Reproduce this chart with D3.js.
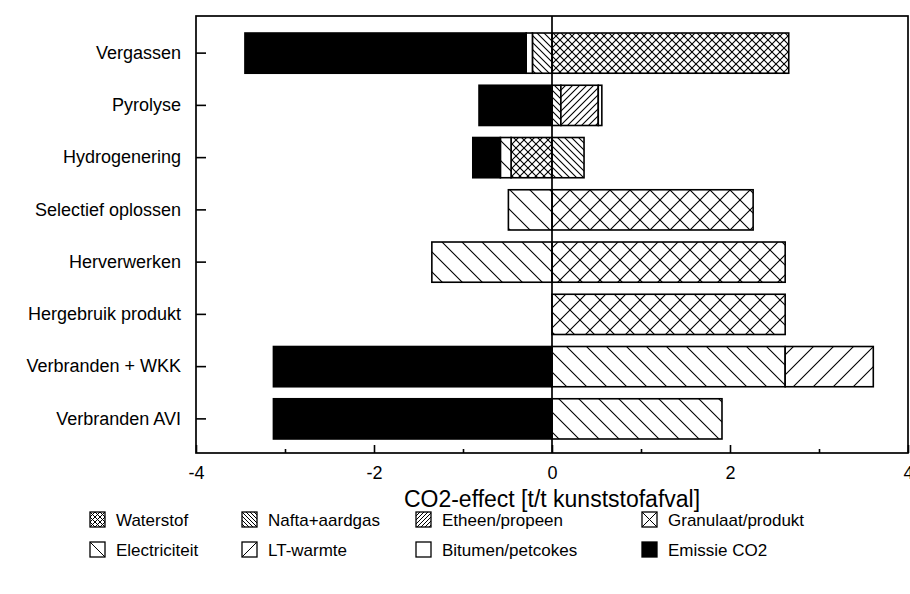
<!DOCTYPE html>
<html><head><meta charset="utf-8">
<script src="https://cdn.jsdelivr.net/npm/d3@7"></script>
<style>
body{margin:0;background:#fff}
svg text{font-family:"Liberation Sans",Arial,Helvetica,sans-serif;fill:#000}
</style>
</head><body>
<svg id="c" width="910" height="594"></svg>
<script>
// ---- data ----
const categories = ["Vergassen","Pyrolyse","Hydrogenering","Selectief oplossen","Herverwerken","Hergebruik produkt","Verbranden + WKK","Verbranden AVI"];
const seriesNames = ["Waterstof","Nafta+aardgas","Etheen/propeen","Granulaat/produkt","Electriciteit","LT-warmte","Bitumen/petcokes","Emissie CO2"];
const waterstof        = [ 2.66, 0.00, -0.46, 0.00,  0.00, 0.00,  0.00,  0.00];
const naftaAardgas     = [-0.22, 0.10,  0.36, 0.00,  0.00, 0.00,  0.00,  0.00];
const etheenPropeen    = [ 0.00, 0.42,  0.00, 0.00,  0.00, 0.00,  0.00,  0.00];
const granulaatProdukt = [ 0.00, 0.00,  0.00, 2.26,  2.62, 2.62,  0.00,  0.00];
const electriciteit    = [ 0.00, 0.00, -0.12,-0.49, -1.35, 0.00,  2.62,  1.91];
const ltWarmte         = [ 0.00, 0.00,  0.00, 0.00,  0.00, 0.00,  0.99,  0.00];
const bitumenPetcokes  = [-0.07, 0.04,  0.00, 0.00,  0.00, 0.00,  0.00,  0.00];
const emissieCO2       = [-3.16,-0.82, -0.31, 0.00,  0.00, 0.00, -3.13, -3.13];
const xTickValues = [-4,-2,0,2,4];
const xMinorTickValues = [-3,-1,1,3];
const xTitle = "CO2-effect [t/t kunststofafval]";

const seriesValues = [waterstof,naftaAardgas,etheenPropeen,granulaatProdukt,electriciteit,ltWarmte,bitumenPetcokes,emissieCO2];
const table = categories.map((c,i)=>{
  const row={category:c};
  seriesNames.forEach((s,j)=>row[s]=seriesValues[j][i]);
  return row;
});

// ---- layout ----
const svg = d3.select("#c");
const x = d3.scaleLinear().domain([-4,4]).range([196,908]);
const y = d3.scaleBand().domain(categories).range([27,445]).paddingInner(0.23).paddingOuter(0.115);
const plotTop = 16, plotBottom = 453;

// ---- patterns ----
const defs = svg.append("defs");
function makePattern(id, p, kind, sw){
  const pat = defs.append("pattern").attr("id",id).attr("patternUnits","userSpaceOnUse")
    .attr("width",p).attr("height",p);
  pat.append("rect").attr("width",p).attr("height",p).attr("fill","#fff");
  const st = (sel)=>sel.attr("stroke","#000").attr("stroke-width",sw).attr("fill","none");
  if(kind==="back"||kind==="cross"){
    st(pat.append("path").attr("d",`M0,0L${p},${p}M${-p},0L${p},${2*p}M0,${-p}L${2*p},${p}`));
  }
  if(kind==="fwd"||kind==="cross"){
    st(pat.append("path").attr("d",`M${p},0L0,${p}M${2*p},0L0,${2*p}M${p},${-p}L${-p},${p}`));
  }
  if(kind==="black"){
    pat.select("rect").attr("fill","#000");
  }
}
const patternSpec = {
  "Waterstof":["cross",8],
  "Nafta+aardgas":["back",7],
  "Etheen/propeen":["fwd",7],
  "Granulaat/produkt":["cross",20],
  "Electriciteit":["back",20],
  "LT-warmte":["fwd",20],
  "Bitumen/petcokes":["none",20],
  "Emissie CO2":["black",20]
};
const legendSpec = {
  "Waterstof":["cross",5],
  "Nafta+aardgas":["back",4],
  "Etheen/propeen":["fwd",4],
  "Granulaat/produkt":["cross",15],
  "Electriciteit":["back",15],
  "LT-warmte":["fwd",15],
  "Bitumen/petcokes":["none",15],
  "Emissie CO2":["black",15]
};
seriesNames.forEach((s,i)=>{
  makePattern("p"+i, patternSpec[s][1], patternSpec[s][0], 1.1);
  makePattern("l"+i, legendSpec[s][1], legendSpec[s][0], 1);
});

// ---- bars ----
const stack = d3.stack().keys(seriesNames).offset(d3.stackOffsetDiverging);
const stacked = stack(table);
const barG = svg.append("g");
stacked.forEach((layer,i)=>{
  barG.append("g").selectAll("rect")
    .data(layer.filter(d=>d[0]!==d[1]))
    .join("rect")
    .attr("x",d=>x(Math.min(d[0],d[1])))
    .attr("width",d=>Math.abs(x(d[1])-x(d[0])))
    .attr("y",d=>y(d.data.category))
    .attr("height",y.bandwidth())
    .attr("fill",`url(#p${i})`)
    .attr("stroke","#000").attr("stroke-width",1.6);
});

// ---- frame & zero line ----
svg.append("rect").attr("x",x(-4)).attr("y",plotTop)
  .attr("width",x(4)-x(-4)).attr("height",plotBottom-plotTop)
  .attr("fill","none").attr("stroke","#000").attr("stroke-width",1.7);
svg.append("line").attr("x1",x(0)).attr("x2",x(0)).attr("y1",plotTop).attr("y2",plotBottom)
  .attr("stroke","#000").attr("stroke-width",1.7);

// ---- axes ----
const xAxis = svg.append("g").attr("transform",`translate(0,${plotBottom})`)
  .call(d3.axisBottom(x).tickValues(xTickValues).tickSize(-8).tickPadding(13).tickFormat(d3.format("d")));
xAxis.select(".domain").remove();
xAxis.selectAll("line").attr("stroke-width",1.6);
xAxis.selectAll("text").style("font-size","18px").text(d=>d<0?"-"+Math.abs(d):d);
const xMinor = svg.append("g").attr("transform",`translate(0,${plotBottom})`)
  .call(d3.axisBottom(x).tickValues(xMinorTickValues).tickSize(-4).tickFormat(""));
xMinor.select(".domain").remove();
xMinor.selectAll("line").attr("stroke-width",1.6);

const yAxis = svg.append("g").attr("transform",`translate(${x(-4)},0)`)
  .call(d3.axisLeft(y).tickSize(-10).tickPadding(15));
yAxis.select(".domain").remove();
yAxis.selectAll("line").attr("stroke-width",1.6);
yAxis.selectAll("text").style("font-size","18px");

svg.append("text").attr("x",x(0)).attr("y",507).attr("text-anchor","middle")
  .style("font-size","23px").text(xTitle);

// ---- legend ----
const legendCols = [90,242,416,642];
const legendRows = [512,542];
const legG = svg.append("g");
seriesNames.forEach((s,i)=>{
  const col = i%4, row = Math.floor(i/4);
  const g = legG.append("g").attr("transform",`translate(${legendCols[col]},${legendRows[row]})`);
  g.append("rect").attr("width",15).attr("height",15).attr("fill",`url(#l${i})`)
    .attr("stroke","#000").attr("stroke-width",1.3);
  g.append("text").attr("x",26).attr("y",14).style("font-size","17px").text(s);
});
</script>
</body></html>
